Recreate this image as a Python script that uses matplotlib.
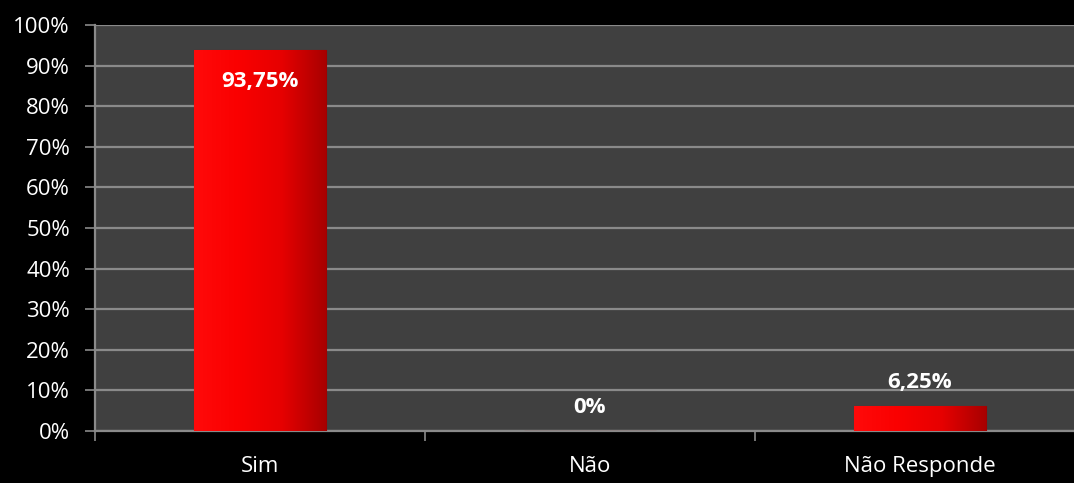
import numpy as np
import matplotlib
matplotlib.use('Agg')
import matplotlib.pyplot as plt
from matplotlib.ticker import FuncFormatter

# Chart data
categories = ['Sim', 'Não', 'Não Responde']
values = [93.75, 0.0, 6.25]
value_labels = ['93,75%', '0%', '6,25%']
y_ticks = list(range(0, 101, 10))

plt.rcParams['font.family'] = ['Open Sans', 'DejaVu Sans']

fig = plt.figure(figsize=(10.74, 4.83), dpi=100, facecolor='black')
ax = fig.add_axes([95 / 1074, 52 / 483, 990 / 1074, 406 / 483])
ax.set_facecolor('#404040')

x = np.arange(len(categories))
bars = ax.bar(x, values, width=0.4, color='#e00000', edgecolor='#a00000',
              linewidth=0.8, zorder=3)

# horizontal red gradient on each bar, clipped to the bar
grad = np.linspace(0, 1, 256).reshape(1, -1)
cmap = matplotlib.colors.LinearSegmentedColormap.from_list(
    'redgrad', ['#ff0a0a', '#fa0000', '#e60000', '#a80000'])
for b in bars:
  if b.get_height() <= 0:
    continue
  x0, y0 = b.get_x(), b.get_y()
  im = ax.imshow(grad, cmap=cmap, aspect='auto', zorder=4,
                 extent=[x0, x0 + b.get_width(), y0, y0 + b.get_height()])
  im.set_clip_path(b)

ax.set_xlim(-0.5, 2.5)
ax.set_ylim(0, 100)
ax.set_yticks(y_ticks)
ax.yaxis.set_major_formatter(FuncFormatter(lambda v, _: f'{int(v)}%'))
ax.grid(axis='y', color='#8a8a8a', linewidth=1.6, zorder=1)

ax.set_xticks([-0.5, 0.5, 1.5, 2.5])
ax.set_xticklabels([])
ax.set_xticks(x, minor=True)
ax.set_xticklabels(categories, minor=True)
ax.tick_params(axis='x', which='minor', length=0, pad=18, labelsize=16,
               colors='white')
ax.tick_params(axis='x', which='major', length=7, width=1.2, color='#8a8a8a')
ax.tick_params(axis='y', length=7, width=1.2, color='#8a8a8a',
               labelsize=16, labelcolor='white', pad=11)

for side in ('top', 'right'):
  ax.spines[side].set_visible(False)
for side in ('left', 'bottom'):
  ax.spines[side].set_color('#8a8a8a')
  ax.spines[side].set_linewidth(1.6)

# value labels: inside end for the tall bar, above the others
for xi, v, lab in zip(x, values, value_labels):
  if v > 50:
    ax.text(xi, v - 5, lab, ha='center', va='top', color='white',
            fontsize=16, fontweight='bold', zorder=5)
  else:
    ax.text(xi, v + 3.2, lab, ha='center', va='bottom', color='white',
            fontsize=16, fontweight='bold', zorder=5)

fig.savefig('out.png', dpi=100, facecolor='black')
